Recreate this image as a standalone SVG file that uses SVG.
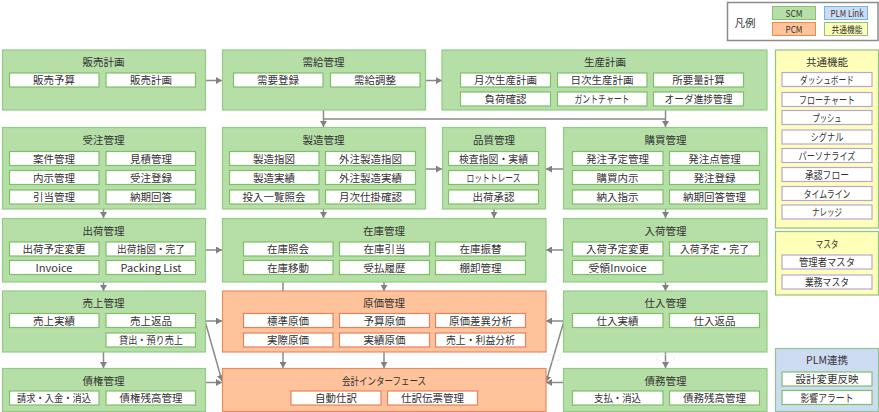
<svg xmlns="http://www.w3.org/2000/svg" width="879" height="412" viewBox="0 0 879 412">
<defs>
<style>
text{font-family:"Noto Sans CJK JP","Noto Sans",sans-serif;font-size:10.5px;fill:#333;text-anchor:middle}
.g{fill:#b5dfa6;stroke:#92cb86;stroke-width:1.2}
.o{fill:#ffc39c;stroke:#ec8a62;stroke-width:1.2}
.y{fill:#ffffb9;stroke:#93c47d;stroke-width:1.2}
.b{fill:#cddbf3;stroke:#8fc48a;stroke-width:1.2}
.s{fill:#fff;stroke:#7fbf68;stroke-width:1.2}
.so{fill:#fff;stroke:#e9805a;stroke-width:1.2}
.sp{fill:#fff;stroke:#b4a7d6;stroke-width:1.2}
.c{fill:none;stroke:#8a8a8a;stroke-width:1.5}
.a{marker-end:url(#h)}
</style>
<marker id="h" markerUnits="userSpaceOnUse" markerWidth="7" markerHeight="7" refX="6" refY="3.5" orient="auto"><path d="M0 0L6 3.5L0 7z" fill="#808080"/></marker>
</defs>
<g id="connectors">
<path class="c a" d="M205 80.500H222"/>
<path class="c a" d="M425 80.500H442"/>
<path class="c a" d="M323.500 110V127"/>
<path class="c" d="M323.500 119H665.500"/>
<path class="c a" d="M665.500 110V127"/>
<path class="c a" d="M103.500 209V218"/>
<path class="c a" d="M323.500 209V218"/>
<path class="c a" d="M494 209V218"/>
<path class="c a" d="M665.500 209V218"/>
<path class="c a" d="M425 169H442"/>
<path class="c a" d="M563 169H546"/>
<path class="c a" d="M205 250H222"/>
<path class="c a" d="M563 250H546"/>
<path class="c a" d="M103.500 282V291"/>
<path class="c a" d="M665.500 282V291"/>
<path class="c" d="M283 282V291"/>
<path class="c a" d="M384 282V291"/>
<path class="c a" d="M103.500 352V368"/>
<path class="c a" d="M665.500 352V368"/>
<path class="c a" d="M283 352V368"/>
<path class="c a" d="M384 352V368"/>
<path class="c a" d="M205 321H222"/>
<path class="c a" d="M205 321L222 381"/>
<path class="c a" d="M205 382.500H222"/>
<path class="c a" d="M563 321H546"/>
<path class="c a" d="M564 321L546 382"/>
<path class="c a" d="M563 382.500H546"/>
<ellipse cx="552" cy="358" rx="9" ry="3.500" fill="none" stroke="#e4e4e4" stroke-width="0.800" stroke-dasharray="2 1"/>
<ellipse cx="665.500" cy="358" rx="9" ry="3.500" fill="none" stroke="#e4e4e4" stroke-width="0.800" stroke-dasharray="2 1"/>
</g>
<g id="legend">
<rect x="727.500" y="2.500" width="150.500" height="38" fill="#fff" stroke="#8c8c8c" stroke-width="1.500"/>
<text x="745" y="27" style="font-size:10.5px">凡例</text>
<rect x="772.500" y="6.500" width="43" height="13" fill="#b5dfa6" stroke="#8cc074"/><text x="794" y="16.500" textLength="17" lengthAdjust="spacingAndGlyphs" style="font-size:9.500px">SCM</text>
<rect x="824.500" y="6.500" width="43" height="13" fill="#cddbf3" stroke="#6fb7e8"/><text x="847" y="16.500" textLength="33" lengthAdjust="spacingAndGlyphs" style="font-size:9.500px">PLM Link</text>
<rect x="772.500" y="22.500" width="43" height="13" fill="#ffc39c" stroke="#ee8a4a"/><text x="794" y="33" textLength="17" lengthAdjust="spacingAndGlyphs" style="font-size:9.500px">PCM</text>
<rect x="824.500" y="22.500" width="43" height="13" fill="#ffffb9" stroke="#93c47d"/><text x="847" y="33" textLength="31" lengthAdjust="spacingAndGlyphs" style="font-size:9.500px">共通機能</text>
</g>
<g id="n1"><rect class="g" x="2.500" y="50" width="203" height="60"/><text x="103.500" y="66">販売計画</text>
<rect class="s" x="9.500" y="73" width="89.500" height="14"/><text x="54" y="84">販売予算</text>
<rect class="s" x="106" y="73" width="89.500" height="14"/><text x="151" y="84">販売計画</text></g>
<g id="n2"><rect class="g" x="222.500" y="50" width="203" height="60"/><text x="323.500" y="66">需給管理</text>
<rect class="s" x="233.500" y="73" width="89.500" height="14"/><text x="278" y="84">需要登録</text>
<rect class="s" x="330.500" y="73" width="89.500" height="14"/><text x="375" y="84">需給調整</text></g>
<g id="n3"><rect class="g" x="442" y="50" width="325" height="60"/><text x="605" y="66">生産計画</text>
<rect class="s" x="460.500" y="73" width="90" height="14"/><text x="505.500" y="84">月次生産計画</text>
<rect class="s" x="557.500" y="73" width="89.500" height="14"/><text x="602" y="84">日次生産計画</text>
<rect class="s" x="653.500" y="73" width="90" height="14"/><text x="698.500" y="84">所要量計算</text>
<rect class="s" x="460.500" y="92" width="90" height="14"/><text x="505.500" y="103">負荷確認</text>
<rect class="s" x="557.500" y="92" width="89.500" height="14"/><text x="602" y="103" textLength="55" lengthAdjust="spacingAndGlyphs">ガントチャート</text>
<rect class="s" x="653.500" y="92" width="90" height="14"/><text x="698.500" y="103" textLength="68" lengthAdjust="spacingAndGlyphs">オーダ進捗管理</text></g>
<g id="n4"><rect class="g" x="2.500" y="127.500" width="203" height="81.500"/><text x="103.500" y="144">受注管理</text>
<rect class="s" x="9.500" y="151.500" width="89.500" height="14"/><text x="54" y="163">案件管理</text>
<rect class="s" x="106" y="151.500" width="89.500" height="14"/><text x="151" y="163">見積管理</text>
<rect class="s" x="9.500" y="170.500" width="89.500" height="14"/><text x="54" y="182">内示管理</text>
<rect class="s" x="106" y="170.500" width="89.500" height="14"/><text x="151" y="182">受注登録</text>
<rect class="s" x="9.500" y="190" width="89.500" height="14"/><text x="54" y="201">引当管理</text>
<rect class="s" x="106" y="190" width="89.500" height="14"/><text x="151" y="201">納期回答</text></g>
<g id="n5"><rect class="g" x="222.500" y="127.500" width="203" height="81.500"/><text x="323.500" y="144">製造管理</text>
<rect class="s" x="229.500" y="151.500" width="89.500" height="14"/><text x="274" y="163">製造指図</text>
<rect class="s" x="325.500" y="151.500" width="90" height="14"/><text x="370.500" y="163">外注製造指図</text>
<rect class="s" x="229.500" y="170.500" width="89.500" height="14"/><text x="274" y="182">製造実績</text>
<rect class="s" x="325.500" y="170.500" width="90" height="14"/><text x="370.500" y="182">外注製造実績</text>
<rect class="s" x="229.500" y="190" width="89.500" height="14"/><text x="274" y="201">投入一覧照会</text>
<rect class="s" x="325.500" y="190" width="90" height="14"/><text x="370.500" y="201">月次仕掛確認</text></g>
<g id="n6"><rect class="g" x="442.500" y="127.500" width="103" height="81.500"/><text x="494" y="144">品質管理</text>
<rect class="s" x="448.500" y="151.500" width="90" height="14"/><text x="493.500" y="163" textLength="69" lengthAdjust="spacingAndGlyphs">検査指図・実績</text>
<rect class="s" x="448.500" y="170.500" width="90" height="14"/><text x="493.500" y="182" textLength="54" lengthAdjust="spacingAndGlyphs">ロットトレース</text>
<rect class="s" x="448.500" y="190" width="90" height="14"/><text x="493.500" y="201">出荷承認</text></g>
<g id="n7"><rect class="g" x="563.500" y="127.500" width="203.500" height="81.500"/><text x="665.500" y="144">購買管理</text>
<rect class="s" x="572.500" y="151.500" width="90.500" height="14"/><text x="617.500" y="163">発注予定管理</text>
<rect class="s" x="669.500" y="151.500" width="90" height="14"/><text x="714.500" y="163">発注点管理</text>
<rect class="s" x="572.500" y="170.500" width="90.500" height="14"/><text x="617.500" y="182">購買内示</text>
<rect class="s" x="669.500" y="170.500" width="90" height="14"/><text x="714.500" y="182">発注登録</text>
<rect class="s" x="572.500" y="190" width="90.500" height="14"/><text x="617.500" y="201">納入指示</text>
<rect class="s" x="669.500" y="190" width="90" height="14"/><text x="714.500" y="201">納期回答管理</text></g>
<g id="n8"><rect class="g" x="2.500" y="218.500" width="203" height="63.500"/><text x="103.500" y="235">出荷管理</text>
<rect class="s" x="9.500" y="242" width="89.500" height="14"/><text x="54" y="253">出荷予定変更</text>
<rect class="s" x="106" y="242" width="89.500" height="14"/><text x="151" y="253" textLength="68" lengthAdjust="spacingAndGlyphs">出荷指図・完了</text>
<rect class="s" x="9.500" y="260.500" width="89.500" height="14"/><text x="54" y="272" textLength="37" lengthAdjust="spacingAndGlyphs">Invoice</text>
<rect class="s" x="106" y="260.500" width="89.500" height="14"/><text x="151" y="272" textLength="61" lengthAdjust="spacingAndGlyphs">Packing List</text></g>
<g id="n9"><rect class="g" x="222.500" y="218.500" width="323.500" height="63.500"/><text x="384" y="235">在庫管理</text>
<rect class="s" x="243.500" y="242" width="89.500" height="14"/><text x="288" y="253">在庫照会</text>
<rect class="s" x="339.500" y="242" width="90" height="14"/><text x="384.500" y="253">在庫引当</text>
<rect class="s" x="435.500" y="242" width="90" height="14"/><text x="480.500" y="253">在庫振替</text>
<rect class="s" x="243.500" y="260.500" width="89.500" height="14"/><text x="288" y="272">在庫移動</text>
<rect class="s" x="339.500" y="260.500" width="90" height="14"/><text x="384.500" y="272">受払履歴</text>
<rect class="s" x="435.500" y="260.500" width="90" height="14"/><text x="480.500" y="272">棚卸管理</text></g>
<g id="n10"><rect class="g" x="563.500" y="218.500" width="203.500" height="63.500"/><text x="665.500" y="235">入荷管理</text>
<rect class="s" x="572.500" y="242" width="90.500" height="14"/><text x="617.500" y="253">入荷予定変更</text>
<rect class="s" x="669.500" y="242" width="90" height="14"/><text x="714.500" y="253" textLength="69" lengthAdjust="spacingAndGlyphs">入荷予定・完了</text>
<rect class="s" x="572.500" y="260.500" width="90.500" height="14"/><text x="617.500" y="272" textLength="58" lengthAdjust="spacingAndGlyphs">受領Invoice</text></g>
<g id="n11"><rect class="g" x="2.500" y="291" width="203" height="61"/><text x="103.500" y="307">売上管理</text>
<rect class="s" x="9.500" y="313.500" width="89.500" height="14"/><text x="54" y="325">売上実績</text>
<rect class="s" x="106" y="313.500" width="89.500" height="14"/><text x="151" y="325">売上返品</text>
<rect class="s" x="106" y="333" width="89.500" height="14"/><text x="151" y="344" textLength="64" lengthAdjust="spacingAndGlyphs">貸出・預り売上</text></g>
<g id="n12"><rect class="o" x="222.500" y="291" width="323.500" height="61"/><text x="384" y="307">原価管理</text>
<rect class="so" x="243.500" y="313.500" width="89.500" height="14"/><text x="288" y="325">標準原価</text>
<rect class="so" x="339.500" y="313.500" width="90" height="14"/><text x="384.500" y="325">予算原価</text>
<rect class="so" x="435.500" y="313.500" width="90" height="14"/><text x="480.500" y="325">原価差異分析</text>
<rect class="so" x="243.500" y="333" width="89.500" height="14"/><text x="288" y="344">実際原価</text>
<rect class="so" x="339.500" y="333" width="90" height="14"/><text x="384.500" y="344">実績原価</text>
<rect class="so" x="435.500" y="333" width="90" height="14"/><text x="480.500" y="344" textLength="69" lengthAdjust="spacingAndGlyphs">売上・利益分析</text></g>
<g id="n13"><rect class="g" x="563.500" y="291" width="203.500" height="61"/><text x="665.500" y="307">仕入管理</text>
<rect class="s" x="572.500" y="313.500" width="90.500" height="14"/><text x="617.500" y="325">仕入実績</text>
<rect class="s" x="669.500" y="313.500" width="90" height="14"/><text x="714.500" y="325">仕入返品</text></g>
<g id="n14"><rect class="g" x="2.500" y="368.500" width="203" height="43"/><text x="103.500" y="385">債権管理</text>
<rect class="s" x="9.500" y="391" width="89.500" height="14"/><text x="54" y="402" textLength="74" lengthAdjust="spacingAndGlyphs">請求・入金・消込</text>
<rect class="s" x="106" y="391" width="89.500" height="14"/><text x="151" y="402">債権残高管理</text></g>
<g id="n15"><rect class="o" x="222.500" y="368.500" width="323.500" height="43"/><text x="384" y="385" textLength="84" lengthAdjust="spacingAndGlyphs">会計インターフェース</text>
<rect class="so" x="291" y="391" width="90" height="14"/><text x="336" y="402">自動仕訳</text>
<rect class="so" x="387.500" y="391" width="90" height="14"/><text x="432.500" y="402">仕訳伝票管理</text></g>
<g id="n16"><rect class="g" x="563.500" y="368.500" width="203.500" height="43"/><text x="665.500" y="385">債務管理</text>
<rect class="s" x="572.500" y="391" width="90.500" height="14"/><text x="617.500" y="402" textLength="47" lengthAdjust="spacingAndGlyphs">支払・消込</text>
<rect class="s" x="669.500" y="391" width="90" height="14"/><text x="714.500" y="402">債務残高管理</text></g>
<g id="n17"><rect class="y" x="775.500" y="50" width="103" height="178"/><text x="827" y="66">共通機能</text>
<rect class="sp" x="782" y="72.500" width="90" height="14"/><text x="827" y="84" textLength="54" lengthAdjust="spacingAndGlyphs">ダッシュボード</text>
<rect class="sp" x="782" y="92.500" width="90" height="14"/><text x="827" y="104" textLength="56" lengthAdjust="spacingAndGlyphs">フローチャート</text>
<rect class="sp" x="782" y="110.500" width="90" height="14"/><text x="827" y="122" textLength="29" lengthAdjust="spacingAndGlyphs">プッシュ</text>
<rect class="sp" x="782" y="130" width="90" height="14"/><text x="827" y="141" textLength="33" lengthAdjust="spacingAndGlyphs">シグナル</text>
<rect class="sp" x="782" y="148.500" width="90" height="14"/><text x="827" y="160" textLength="57" lengthAdjust="spacingAndGlyphs">パーソナライズ</text>
<rect class="sp" x="782" y="167.500" width="90" height="14"/><text x="827" y="179" textLength="44" lengthAdjust="spacingAndGlyphs">承認フロー</text>
<rect class="sp" x="782" y="186.500" width="90" height="14"/><text x="827" y="198" textLength="47" lengthAdjust="spacingAndGlyphs">タイムライン</text>
<rect class="sp" x="782" y="205" width="90" height="14"/><text x="827" y="216" textLength="30" lengthAdjust="spacingAndGlyphs">ナレッジ</text></g>
<g id="n18"><rect class="y" x="775.500" y="231.500" width="103" height="63.500"/><text x="827" y="248" textLength="23" lengthAdjust="spacingAndGlyphs">マスタ</text>
<rect class="sp" x="782" y="255" width="90" height="14"/><text x="827" y="266" textLength="56" lengthAdjust="spacingAndGlyphs">管理者マスタ</text>
<rect class="sp" x="782" y="275" width="90" height="14"/><text x="827" y="286" textLength="44" lengthAdjust="spacingAndGlyphs">業務マスタ</text></g>
<g id="n19"><rect class="b" x="775.500" y="348.500" width="103" height="63"/><text x="827" y="364">PLM連携</text>
<rect class="s" x="782" y="372" width="90" height="14"/><text x="827" y="383">設計変更反映</text>
<rect class="s" x="782" y="390.500" width="90" height="14"/><text x="827" y="402" textLength="53" lengthAdjust="spacingAndGlyphs">影響アラート</text></g>
</svg>
